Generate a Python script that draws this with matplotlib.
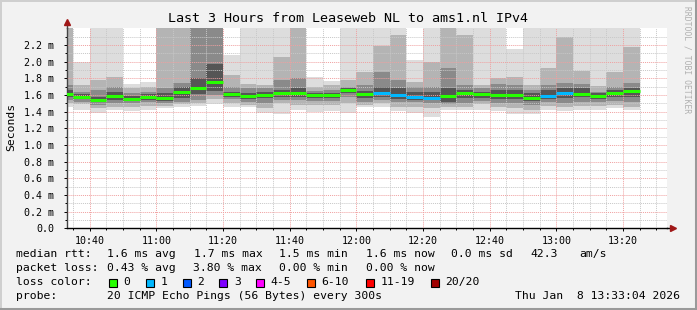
import numpy as np
import pandas as pd
import matplotlib
matplotlib.use('Agg')
import matplotlib.pyplot as plt
from matplotlib.patches import Rectangle
from matplotlib.ticker import MultipleLocator, FixedLocator, FuncFormatter

W, H = 697, 310

# 5 minute slots (start time), last one 13:20-13:25
slots = pd.date_range('2026-01-08 10:30', '2026-01-08 13:20', freq='5min')

# median rtt per slot (ms)
median = [1.61, 1.58, 1.54, 1.59, 1.555, 1.58, 1.567, 1.636, 1.684, 1.752,
          1.611, 1.59, 1.60, 1.627, 1.627, 1.60, 1.60, 1.66, 1.611, 1.627,
          1.60, 1.58, 1.563, 1.587, 1.623, 1.611, 1.60, 1.60, 1.563, 1.587,
          1.627, 1.611, 1.587, 1.623, 1.651]
# lost pings per slot
loss = [0, 0, 0, 0, 0, 0, 0, 0, 0, 0,
        0, 0, 0, 0, 0, 0, 0, 0, 0, 1,
        1, 1, 1, 0, 0, 0, 0, 0, 0, 1,
        1, 0, 0, 0, 0]

# smoke bands, outer -> inner (ms); values above 2.4 are clipped by the axis
hi1 = [2.45, 1.99, 2.45, 2.45, 1.73, 1.75, 2.45, 2.45, 2.45, 2.45,
       2.08, 2.45, 2.45, 2.45, 2.45, 1.81, 1.77, 2.45, 2.45, 2.45,
       2.45, 2.02, 2.45, 2.45, 2.45, 2.45, 2.45, 2.15, 2.45, 2.45,
       2.45, 2.45, 2.45, 2.45, 2.45]
hi2 = [2.45, 1.72, 1.78, 1.82, 1.68, 1.70, 2.45, 2.45, 2.45, 2.45,
       1.84, 1.73, 1.72, 2.05, 2.45, 1.70, 1.72, 1.78, 1.88, 2.19,
       2.32, 1.76, 2.00, 2.45, 2.32, 1.72, 1.80, 1.82, 1.72, 1.92,
       2.30, 1.89, 1.71, 1.88, 2.17]
hi3 = [1.72, 1.64, 1.66, 1.70, 1.62, 1.64, 1.68, 1.74, 2.45, 2.45,
       1.70, 1.68, 1.68, 1.78, 1.80, 1.65, 1.66, 1.70, 1.72, 1.88,
       1.78, 1.70, 1.70, 1.92, 1.72, 1.68, 1.73, 1.72, 1.66, 1.72,
       1.74, 1.73, 1.64, 1.70, 1.74]
hi4 = [1.66, 1.61, 1.58, 1.64, 1.59, 1.61, 1.62, 1.70, 1.80, 1.97,
       1.64, 1.62, 1.64, 1.66, 1.68, 1.62, 1.62, 1.68, 1.65, 1.70,
       1.68, 1.64, 1.64, 1.68, 1.66, 1.64, 1.66, 1.66, 1.62, 1.66,
       1.68, 1.68, 1.62, 1.66, 1.68]
lo4 = [1.58, 1.55, 1.51, 1.54, 1.53, 1.54, 1.53, 1.56, 1.61, 1.65,
       1.58, 1.55, 1.56, 1.58, 1.58, 1.56, 1.56, 1.62, 1.56, 1.58,
       1.55, 1.54, 1.54, 1.52, 1.56, 1.56, 1.55, 1.55, 1.53, 1.55,
       1.56, 1.57, 1.55, 1.58, 1.57]
lo3 = [1.54, 1.51, 1.48, 1.50, 1.50, 1.51, 1.50, 1.52, 1.54, 1.60,
       1.55, 1.51, 1.50, 1.54, 1.54, 1.53, 1.53, 1.58, 1.51, 1.54,
       1.51, 1.51, 1.50, 1.49, 1.50, 1.53, 1.50, 1.50, 1.48, 1.51,
       1.50, 1.52, 1.52, 1.53, 1.51]
lo2 = [1.50, 1.49, 1.44, 1.46, 1.46, 1.47, 1.47, 1.49, 1.50, 1.55,
       1.50, 1.48, 1.44, 1.50, 1.48, 1.48, 1.48, 1.50, 1.48, 1.50,
       1.46, 1.46, 1.44, 1.46, 1.46, 1.49, 1.46, 1.44, 1.42, 1.47,
       1.46, 1.47, 1.47, 1.48, 1.46]
lo1 = [1.46, 1.42, 1.38, 1.42, 1.41, 1.42, 1.44, 1.46, 1.47, 1.49,
       1.46, 1.45, 1.38, 1.37, 1.42, 1.39, 1.41, 1.38, 1.45, 1.45,
       1.41, 1.38, 1.33, 1.42, 1.42, 1.42, 1.41, 1.37, 1.37, 1.42,
       1.41, 1.42, 1.42, 1.44, 1.42]

smoke_grays = ['#dddddd', '#b4b4b4', '#8a8a8a', '#555555']

loss_labels = ['0', '1', '2', '3', '4-5', '6-10', '11-19', '20/20']
loss_colors = ['#26ff00', '#00b8ff', '#0059ff', '#7e00ff',
               '#ff00ff', '#ff5500', '#ff0000', '#a00000']

mono = 'DejaVu Sans Mono'


def fx(x):
    return x / W


def fy(y):
    return 1 - y / H


# minutes after 10:00
t0 = pd.Timestamp('2026-01-08 10:00')
x_start = np.array([(s - t0).total_seconds() / 60 for s in slots])

fig = plt.figure(figsize=(W / 100, H / 100), dpi=100, facecolor='#f2f2f2')
ax = fig.add_axes([fx(66.7), fy(228.3), 600 / W, 200 / H])
ax.set_facecolor('white')

bands = [(lo1, hi1), (lo2, hi2), (lo3, hi3), (lo4, hi4)]
for (lo, hi), col in zip(bands, smoke_grays):
    lo = np.array(lo)
    hi = np.array(hi)
    ax.bar(x_start, hi - lo, bottom=lo, width=5, align='edge',
           color=col, linewidth=0, zorder=1)

med_cols = [loss_colors[n] for n in loss]
ax.hlines(median, x_start, x_start + 5, colors=med_cols, lw=2.2, zorder=4)

ax.set_xlim(33 + 4 / 60, 213 + 4 / 60)
ax.set_ylim(0, 2.4)

ax.xaxis.set_major_locator(MultipleLocator(20))
ax.xaxis.set_minor_locator(MultipleLocator(5))
ax.yaxis.set_major_locator(FixedLocator(np.arange(0, 2.3, 0.2)))
ax.yaxis.set_minor_locator(FixedLocator(np.arange(0.1, 2.35, 0.2)))


def hhmm(v, pos):
    m = int(round(v))
    return f'{10 + m // 60}:{m % 60:02d}'


def ylab(v, pos):
    if abs(v) < 1e-9:
        return '0.0'
    return f'{v:.1f} m'


ax.xaxis.set_major_formatter(FuncFormatter(hhmm))
ax.yaxis.set_major_formatter(FuncFormatter(ylab))

ax.set_axisbelow(False)
ax.grid(which='minor', color='#c8c8c8', linestyle=(0, (1, 1)), lw=0.7, zorder=2)
ax.grid(which='major', color='#f0a0a0', linestyle=(0, (1, 1)), lw=0.7, zorder=2)

ax.tick_params(which='major', length=2.5, width=0.7, pad=6.5,
               labelsize=7.2, colors='black')
ax.tick_params(which='minor', length=1.5, width=0.7)
ax.tick_params(axis='x', pad=3)
for lab in ax.get_xticklabels() + ax.get_yticklabels():
    lab.set_family(mono)

for s in ['top', 'right']:
    ax.spines[s].set_visible(False)
ax.spines['left'].set_color('#444444')
ax.spines['bottom'].set_color('black')
ax.spines['left'].set_linewidth(1)
ax.spines['bottom'].set_linewidth(1)

# axis arrows
ax.plot([0, 0], [1, 1.02], color='#444444', lw=1, transform=ax.transAxes,
        clip_on=False)
ax.plot(0, 1.03, marker='^', ms=5, color='#a01818', transform=ax.transAxes,
        clip_on=False)
ax.plot([1, 1.005], [0, 0], color='black', lw=1, transform=ax.transAxes,
        clip_on=False)
ax.plot(1.01, 0, marker='>', ms=5, color='#a01818', transform=ax.transAxes,
        clip_on=False)

fig.text(fx(347.5), fy(18), 'Last 3 Hours from Leaseweb NL to ams1.nl IPv4',
         family=mono, fontsize=9.6, ha='center', va='center')
fig.text(fx(11), fy(127), 'Seconds', family=mono, fontsize=8.2,
         rotation=90, ha='center', va='center')
fig.text(fx(687.5), fy(60), 'RRDTOOL / TOBI OETIKER', family=mono,
         fontsize=5.8, rotation=270, ha='center', va='center', color='#b0b0b0')

fs = 8.2
rows = [
    (254.3, [(16, 'median rtt:'), (107.3, '1.6 ms avg'), (193.7, '1.7 ms max'),
             (279.3, '1.5 ms min'), (365.7, '1.6 ms now'), (451, '0.0 ms sd'),
             (530, '42.3'), (579, 'am/s')]),
    (268.3, [(16, 'packet loss:'), (107.3, '0.43 % avg'), (193.3, '3.80 % max'),
             (279.3, '0.00 % min'), (365.7, '0.00 % now')]),
    (282.3, [(16, 'loss color:')]),
    (296.0, [(16, 'probe:'), (107.3, '20 ICMP Echo Pings (56 Bytes) every 300s')]),
]
for y, items in rows:
    for x, s in items:
        fig.text(fx(x), fy(y), s, family=mono, fontsize=fs, ha='left', va='center')
fig.text(fx(680), fy(296), 'Thu Jan  8 13:33:04 2026', family=mono,
         fontsize=fs, ha='right', va='center')

box_x = [108.7, 145.7, 182.7, 219.3, 256.3, 307, 365.7, 430.7]
for bx, lab, col in zip(box_x, loss_labels, loss_colors):
    fig.patches.append(Rectangle((fx(bx), fy(286.5)), 8 / W, 8 / H,
                                 transform=fig.transFigure, facecolor=col,
                                 edgecolor='black', lw=0.8))
    fig.text(fx(bx + 14.5), fy(282.3), lab, family=mono, fontsize=fs,
             ha='left', va='center')

# frame
fig.add_artist(plt.Line2D([0, 1], [fy(0.5), fy(0.5)], color='#cfcfcf', lw=1.4,
                          transform=fig.transFigure))
fig.add_artist(plt.Line2D([fx(0.5), fx(0.5)], [0, 1], color='#cfcfcf', lw=1.4,
                          transform=fig.transFigure))
fig.add_artist(plt.Line2D([0, 1], [fy(308.5), fy(308.5)], color='#9a9a9a', lw=2.2,
                          transform=fig.transFigure))
fig.add_artist(plt.Line2D([fx(695.5), fx(695.5)], [0, 1], color='#9a9a9a', lw=2.2,
                          transform=fig.transFigure))

fig.savefig('out.png', dpi=100, facecolor=fig.get_facecolor())
plt.close(fig)
